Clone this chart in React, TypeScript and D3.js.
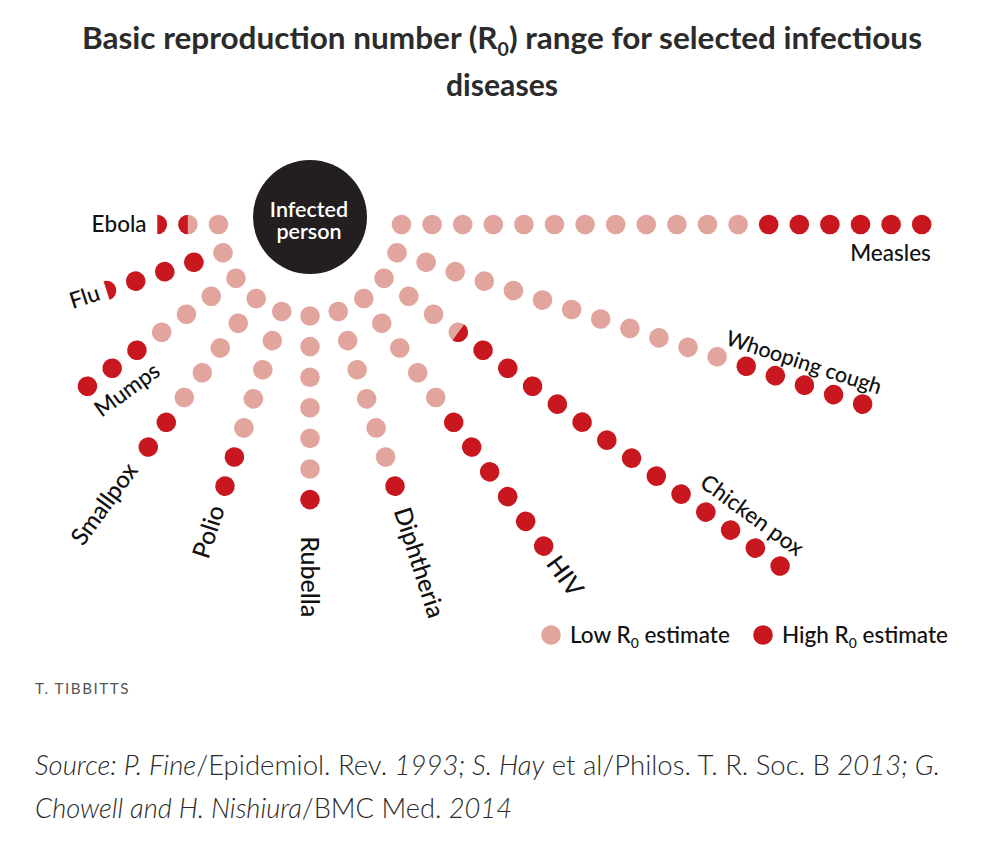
import React from "react";
import * as d3 from "d3";

// ---------- data ----------
const DISEASES = ["Measles", "Whooping cough", "Chicken pox", "HIV", "Diphtheria", "Rubella", "Polio", "Smallpox", "Mumps", "Flu", "Ebola"];
const LOW_R0 = [12, 12, 3.5, 5, 6, 6, 5, 5, 4, 1, 1.5];
const HIGH_R0 = [18, 17, 17, 11, 7, 7, 7, 7, 7, 4.5, 2.5];
const MAX_DOTS = 18;

const TITLE_LINE1 = ["Basic reproduction number (R", "0", ") range for selected infectious"];
const TITLE_LINE2 = "diseases";
const CENTER_LINES = ["Infected", "person"];
const CREDIT = "T. TIBBITTS";
const SOURCE_LINE1: [string, boolean][] = [
  ["Source: P. Fine", true],
  ["/Epidemiol. Rev. ", false],
  ["1993; S. Hay", true],
  [" et al/Philos. T. R. Soc. B ", false],
  ["2013; G.", true],
];
const SOURCE_LINE2: [string, boolean][] = [
  ["Chowell and H. Nishiura", true],
  ["/BMC Med. ", false],
  ["2014", true],
];
const LEGEND_ITEMS = [
  { pre: "Low R", sub: "0", post: " estimate", key: "low" },
  { pre: "High R", sub: "0", post: " estimate", key: "high" },
];

// ---------- layout ----------
const W = 1000, H = 845;
const OX = 310, OY = 224.5;
const DOT_R = 9.8;
const PINK = "#e2a59e";
const RED = "#c8171e";
const INK = "#111";
// label placement along each ray (pos in dot units, off = baseline offset in px)
const LABEL_POS = [
  { pos: 18.3, off: 36, anchor: "end", size: 22.5 },
  { pos: 12.1, off: -14, anchor: "start", size: 21.5 },
  { pos: 13.3, off: -17, anchor: "start", size: 22.5 },
  { pos: 11.5, off: 9, anchor: "start", size: 25 },
  { pos: 7.75, off: 9, anchor: "start", size: 24.5 },
  { pos: 8.2, off: 9, anchor: "start", size: 25 },
  { pos: 7.7, off: 7, anchor: "end", size: 24.5 },
  { pos: 7.8, off: 6, anchor: "end", size: 24 },
  { pos: 6.02, off: 34, anchor: "middle", size: 22.5 },
  { pos: 5.25, off: 7, anchor: "end", size: 22.5 },
  { pos: 3.35, off: 7, anchor: "end", size: 22.5 },
];

const angle = d3.scalePoint<string>().domain(DISEASES).range([0, 180]);
const radial = d3.scaleLinear().domain([1, MAX_DOTS]).range([91.5, 611.7]);

function segPath(a: number, b: number, r: number) {
  const ya = Math.sqrt(Math.max(0, r * r - a * a));
  const yb = Math.sqrt(Math.max(0, r * r - b * b));
  return `M${a},${-ya} A${r},${r} 0 0 1 ${b},${-yb} L${b},${yb} A${r},${r} 0 0 1 ${a},${ya} Z`;
}

function Dot({ lowFrac, highFrac }: { lowFrac: number; highFrac: number }) {
  const r = DOT_R;
  const out: React.ReactNode[] = [];
  const split = -r + 2 * r * lowFrac;
  const end = -r + 2 * r * highFrac;
  if (lowFrac > 0) {
    out.push(lowFrac >= 1 ? <circle key="p" r={r} fill={PINK} /> : <path key="p" d={segPath(-r, split, r)} fill={PINK} />);
  }
  if (highFrac > lowFrac) {
    out.push(lowFrac <= 0 && highFrac >= 1 ? <circle key="r" r={r} fill={RED} /> : <path key="r" d={segPath(split, end, r)} fill={RED} />);
  }
  return <>{out}</>;
}

export default function App() {
  const rays = DISEASES.map((name, k) => {
    const theta = angle(name)!;
    const rad = (theta * Math.PI) / 180;
    const ux = Math.cos(rad), uy = Math.sin(rad);
    const n = Math.ceil(HIGH_R0[k]);
    const dots = d3.range(1, n + 1).map((i) => {
      const lowFrac = Math.max(0, Math.min(1, LOW_R0[k] - (i - 1)));
      const highFrac = Math.max(0, Math.min(1, HIGH_R0[k] - (i - 1)));
      const rr = radial(i);
      return { i, x: OX + rr * ux, y: OY + rr * uy, lowFrac, highFrac };
    });
    const lp = LABEL_POS[k];
    const left = theta > 90;
    const rot = left ? theta - 180 : theta;
    const lyx = left ? Math.sin(rad) : -Math.sin(rad);
    const lyy = left ? -Math.cos(rad) : Math.cos(rad);
    const lr = radial(lp.pos);
    const lx = OX + lr * ux + lp.off * lyx;
    const ly = OY + lr * uy + lp.off * lyy;
    return { name, theta, dots, label: { x: lx, y: ly, rot, anchor: lp.anchor, size: lp.size } };
  });

  const sub = (pre: string, s: string, post: string, size: number) => (
    <>
      <tspan>{pre}</tspan>
      <tspan fontSize={size * 0.62} dy={size * 0.22}>{s}</tspan>
      <tspan dy={-size * 0.22}>{post}</tspan>
    </>
  );

  return (
    <svg width={W} height={H} style={{ position: "absolute", left: 0, top: 0, background: "#fff" }}>
      <rect width={W} height={H} fill="#fff" />
      {/* title */}
      <g fill="#2b2b2b" fontFamily="'Liberation Sans Narrow', Lato, sans-serif" fontWeight="bold" textAnchor="middle">
        <text x={502} y={49} fontSize={30} textLength={840} lengthAdjust="spacingAndGlyphs">
          {sub(TITLE_LINE1[0], TITLE_LINE1[1], TITLE_LINE1[2], 30)}
        </text>
        <text x={502} y={96} fontSize={30} textLength={112} lengthAdjust="spacingAndGlyphs">{TITLE_LINE2}</text>
      </g>

      {/* infected person */}
      <circle cx={310} cy={217} r={57} fill="#231f20" />
      <text fill="#fff" fontFamily="Lato, sans-serif" fontWeight={600} fontSize={21.5} textAnchor="middle">
        <tspan x={309} y={217}>{CENTER_LINES[0]}</tspan>
        <tspan x={309} y={239}>{CENTER_LINES[1]}</tspan>
      </text>

      {/* rays */}
      {rays.map((ray) => (
        <g key={ray.name}>
          {ray.dots.map((d) => (
            <g key={d.i} transform={`translate(${d.x},${d.y}) rotate(${ray.theta})`}>
              <Dot lowFrac={d.lowFrac} highFrac={d.highFrac} />
            </g>
          ))}
          <text
            transform={`translate(${ray.label.x},${ray.label.y}) rotate(${ray.label.rot})`}
            textAnchor={ray.label.anchor as any}
            fontFamily="Lato, sans-serif"
            fontWeight={500}
            fontSize={ray.label.size}
            fill={INK}
          >
            {ray.name}
          </text>
        </g>
      ))}

      {/* legend */}
      {LEGEND_ITEMS.map((it, k) => {
        const x0 = k === 0 ? 551 : 763;
        return (
          <g key={it.key}>
            <circle cx={x0} cy={635} r={DOT_R} fill={k === 0 ? PINK : RED} />
            <text x={x0 + 19} y={643} fontFamily="Lato, sans-serif" fontWeight={500} fontSize={22.5} fill={INK}>
              {sub(it.pre, it.sub, it.post, 22.5)}
            </text>
          </g>
        );
      })}

      {/* credit */}
      <text x={35} y={694} fontFamily="'Liberation Sans Narrow', Lato, sans-serif" fontSize={14.5} letterSpacing={1.5} fill="#555" textLength={95} lengthAdjust="spacingAndGlyphs">
        {CREDIT}
      </text>

      {/* source */}
      <g fontFamily="Lato, sans-serif" fontWeight={300} fontSize={27} fill="#2a2a2a">
        <text x={35} y={775} textLength={905} lengthAdjust="spacingAndGlyphs">
          {SOURCE_LINE1.map(([t, it], i) => (
            <tspan key={i} fontStyle={it ? "italic" : "normal"}>{t}</tspan>
          ))}
        </text>
        <text x={35} y={818} textLength={477} lengthAdjust="spacingAndGlyphs">
          {SOURCE_LINE2.map(([t, it], i) => (
            <tspan key={i} fontStyle={it ? "italic" : "normal"}>{t}</tspan>
          ))}
        </text>
      </g>
    </svg>
  );
}
